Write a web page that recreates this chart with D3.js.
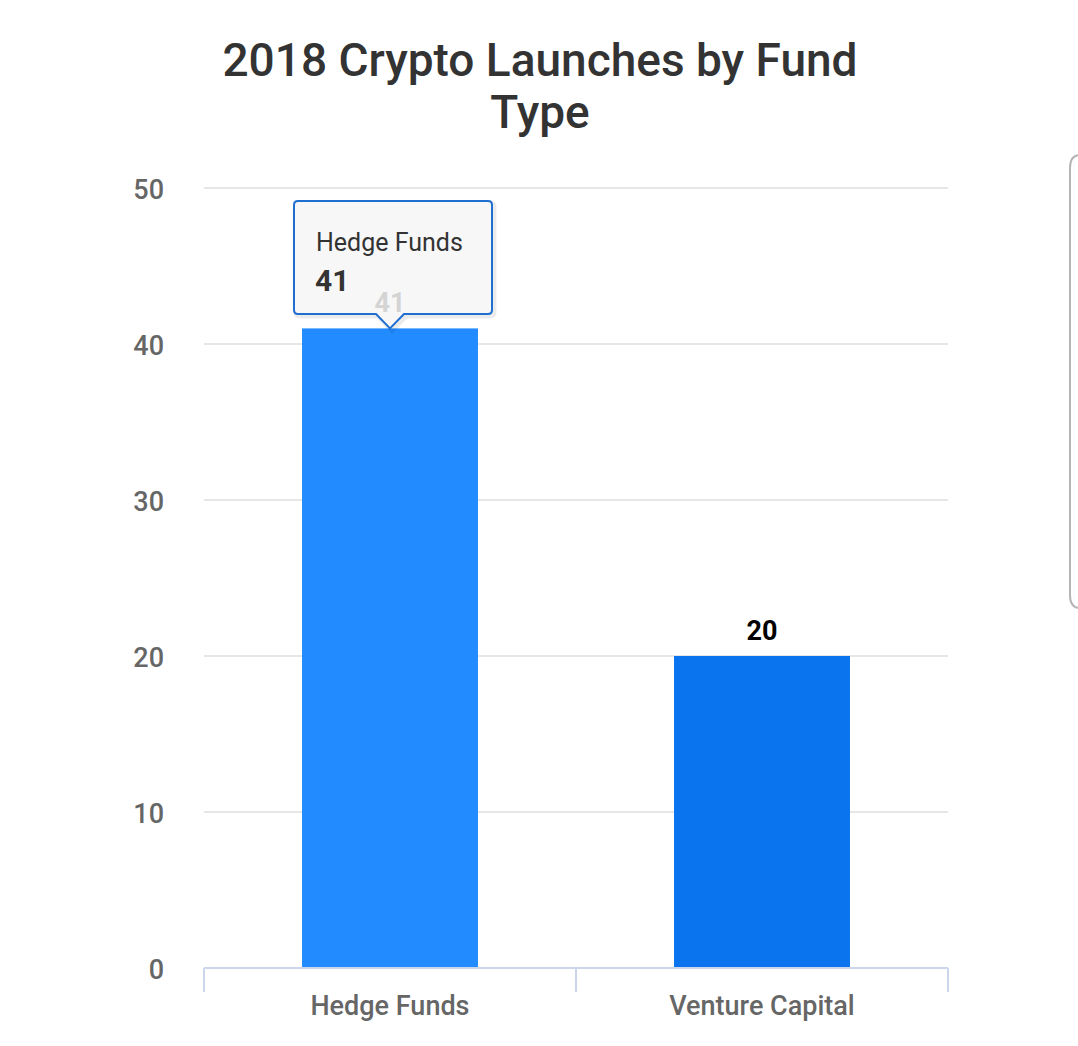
<!DOCTYPE html>
<html>
<head>
<meta charset="utf-8">
<script src="https://cdn.jsdelivr.net/npm/d3@7"></script>
<style>
  body { margin: 0; background: #fff; }
  svg { display: block; font-family: Roboto, "Noto Sans", sans-serif; }
</style>
</head>
<body>
<div id="chart"></div>
<script>
const categories = ["Hedge Funds", "Venture Capital"];
const values = [41, 20];
const barColors = ["#228bff", "#0a74ee"];
const yTicks = [0, 10, 20, 30, 40, 50];
const titleLines = ["2018 Crypto Launches by Fund", "Type"];

const width = 1078, height = 1046;
const margin = ({top: 188, right: 130, bottom: 78, left: 204});

const svg = d3.select("#chart")
    .append("svg")
    .attr("width", width)
    .attr("height", height);

const x = d3.scaleBand(categories, [margin.left, width - margin.right])
    .paddingInner(0)
    .paddingOuter(0);

const y = d3.scaleLinear([0, 50], [height - margin.bottom, margin.top]);

const barW = x.bandwidth() * 0.473;

// title
svg.append("g")
    .attr("fill", "#333")
    .attr("font-size", 46)
    .attr("font-weight", 500)
    .attr("text-anchor", "middle")
    .selectAll("text")
    .data(titleLines)
    .join("text")
    .attr("x", 540)
    .attr("y", (d, i) => 76 + i * 52)
    .text(d => d);

// gridlines
svg.append("g")
    .attr("stroke", "#e6e6e6")
    .attr("stroke-width", 2)
    .selectAll("line")
    .data(yTicks.filter(d => d > 0))
    .join("line")
    .attr("x1", margin.left)
    .attr("x2", width - margin.right)
    .attr("y1", d => y(d))
    .attr("y2", d => y(d));

// y labels
svg.append("g")
    .attr("fill", "#666")
    .attr("font-size", 27)
    .attr("font-weight", 500)
    .attr("text-anchor", "end")
    .selectAll("text")
    .data(yTicks)
    .join("text")
    .attr("x", 164)
    .attr("y", d => y(d) + 2)
    .attr("dy", "0.35em")
    .text(d => d);

// bars
svg.append("g")
    .selectAll("rect")
    .data(categories)
    .join("rect")
    .attr("x", d => x(d) + (x.bandwidth() - barW) / 2)
    .attr("y", (d, i) => y(values[i]))
    .attr("width", barW)
    .attr("height", (d, i) => y(0) - y(values[i]))
    .attr("fill", (d, i) => barColors[i]);

// x axis
const xAxis = svg.append("g")
    .attr("stroke", "#ccd6eb")
    .attr("stroke-width", 2);
xAxis.append("line")
    .attr("x1", margin.left).attr("x2", width - margin.right)
    .attr("y1", y(0)).attr("y2", y(0));
xAxis.selectAll("line.tick")
    .data([...categories.map(d => x(d)), width - margin.right])
    .join("line")
    .attr("class", "tick")
    .attr("x1", d => d).attr("x2", d => d)
    .attr("y1", y(0)).attr("y2", y(0) + 24);

svg.append("g")
    .attr("fill", "#666")
    .attr("font-size", 27)
    .attr("font-weight", 500)
    .attr("text-anchor", "middle")
    .selectAll("text")
    .data(categories)
    .join("text")
    .attr("x", d => x(d) + x.bandwidth() / 2)
    .attr("y", 1015)
    .text(d => d);

// tooltip on first bar
const tipX = x(categories[0]) + x.bandwidth() / 2;
const tipY = y(values[0]);
const bx0 = tipX - 96, bx1 = tipX + 102, by0 = 201, by1 = 314, r = 4;
const tipPath = `M${bx0 + r},${by0}H${bx1 - r}Q${bx1},${by0} ${bx1},${by0 + r}V${by1 - r}Q${bx1},${by1} ${bx1 - r},${by1}`
    + `H${tipX + 14}L${tipX},${tipY}L${tipX - 14},${by1}H${bx0 + r}Q${bx0},${by1} ${bx0},${by1 - r}V${by0 + r}Q${bx0},${by0} ${bx0 + r},${by0}Z`;

const tip = svg.append("g");
tip.append("path")
    .attr("d", tipPath)
    .attr("fill", "none")
    .attr("stroke", "#000")
    .attr("stroke-opacity", 0.08)
    .attr("stroke-width", 5)
    .attr("transform", "translate(2,2)");
tip.append("path")
    .attr("d", tipPath)
    .attr("fill", "#f7f7f7")
    .attr("stroke", "#1f6fd1")
    .attr("stroke-width", 2);
tip.append("text")
    .attr("x", bx0 + 22)
    .attr("y", 251)
    .attr("font-size", 25)
    .attr("fill", "#333")
    .text(categories[0]);
tip.append("text")
    .attr("x", bx0 + 21)
    .attr("y", 291)
    .attr("font-size", 30)
    .attr("font-weight", "bold")
    .attr("fill", "#333")
    .text(values[0]);

// data labels (drawn over the tooltip, the first one faded)
svg.append("g")
    .attr("font-size", 27)
    .attr("font-weight", "bold")
    .attr("text-anchor", "middle")
    .selectAll("text")
    .data(categories)
    .join("text")
    .attr("x", d => x(d) + x.bandwidth() / 2)
    .attr("y", (d, i) => y(values[i]) - 16)
    .attr("fill", (d, i) => i === 0 ? "#d4d4d4" : "#000")
    .text((d, i) => values[i]);

// frame edge at right
svg.append("path")
    .attr("d", "M1085,155H1080Q1070,155 1070,168V595Q1070,608 1080,608H1085")
    .attr("fill", "none")
    .attr("stroke", "#b5b5b5")
    .attr("stroke-width", 2);
</script>
</body>
</html>
